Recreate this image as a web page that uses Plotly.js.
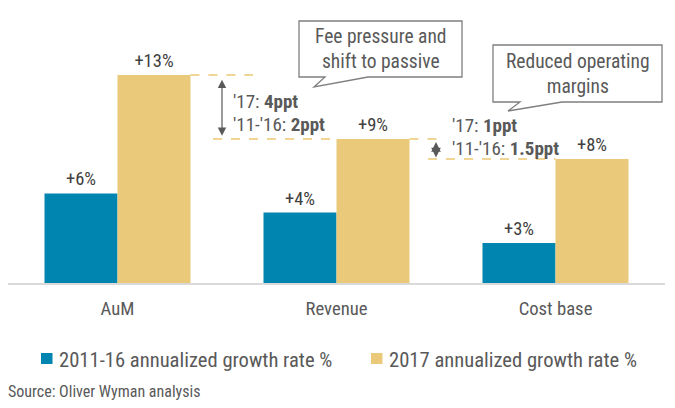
<!DOCTYPE html>
<html>
<head>
<meta charset="utf-8">
<script src="https://cdn.plot.ly/plotly-3.0.1.min.js"></script>
<style>html,body{margin:0;padding:0;background:#fff;}</style>
</head>
<body>
<div id="chart" style="width:675px;height:408px;"></div>
<script>
// ---- data ----
const categories = ['AuM', 'Revenue', 'Cost base'];
const growth2011_16 = [5.6, 4.4, 2.5];
const growth2017 = [13.0, 9.0, 7.75];
const labels2011_16 = ['+6%', '+4%', '+3%'];
const labels2017 = ['+13%', '+9%', '+8%'];
const seriesNames = ['2011-16 annualized growth rate %', '2017 annualized growth rate %'];
const calloutTexts = ['Fee pressure and<br>shift to passive', 'Reduced operating<br>margins'];
const gapTexts = [["'17: <b>4ppt</b>", "'11-'16: <b>2ppt</b>"], ["'17: <b>1ppt</b>", "'11-'16: <b>1.5ppt</b>"]];
const sourceText = 'Source: Oliver Wyman analysis';

// ---- style ----
const FONT = "'Roboto Condensed', 'Liberation Sans Narrow', 'Arial Narrow', Roboto, sans-serif";
const BLUE = '#0085B0';
const GOLD = '#EAC97A';
const DASH = '#EBC873';
const TXT = '#404040';
const TXT2 = '#595959';

const W = 675, H = 408;
const M = {l: 8, r: 10, t: 10, b: 125};
const PW = W - M.l - M.r, PH = H - M.t - M.b;
const PXU = 16; // pixels per percentage point
const YMAX = PH / PXU;
const xr = [-0.5, 2.5];
// helpers to place decorations (pixel -> axis / paper)
const px2x = px => xr[0] + (px - M.l) / PW * (xr[1] - xr[0]);
const py2y = py => (H - M.b - py) / PXU;
const px2p = px => (px - M.l) / PW;
const py2p = py => (H - M.b - py) / PH;

const traces = [
  {type: 'bar', x: categories, y: growth2011_16, name: seriesNames[0],
   marker: {color: BLUE}, text: labels2011_16, textposition: 'outside',
   textfont: {family: FONT, size: 18.5, color: TXT}, cliponaxis: false, hoverinfo: 'none'},
  {type: 'bar', x: categories, y: growth2017, name: seriesNames[1],
   marker: {color: GOLD}, text: labels2017, textposition: 'outside',
   textfont: {family: FONT, size: 18.5, color: TXT}, cliponaxis: false, hoverinfo: 'none'}
];

const shapes = [];
const annotations = [];

// dashed reference lines at bar levels
function dash(x0, x1, y) {
  shapes.push({type: 'line', xref: 'x', yref: 'y', x0: x0, x1: x1, y0: y, y1: y,
    line: {color: DASH, width: 1.5, dash: 'dash'}});
}
dash(0.333, px2x(253), growth2017[0]);
dash(px2x(213), 1.0, growth2017[1]);
dash(1.333, px2x(441), growth2017[1]);
dash(px2x(428), 2.0, growth2017[2]);

// double arrows
function dblArrow(x, y0, y1, s) {
  annotations.push({xref: 'x', yref: 'y', axref: 'x', ayref: 'y', x: x, y: y1, ax: x, ay: y0,
    text: '', showarrow: true, arrowhead: 2, startarrowhead: 2, arrowside: 'end+start',
    arrowsize: s, startarrowsize: s, arrowwidth: 1.2, arrowcolor: '#595959'});
}
dblArrow(px2x(222), growth2017[0] - 0.2, growth2017[1] + 0.2, 1.4);
dblArrow(px2x(436), growth2017[1] - 0.1, growth2017[2] + 0.1, 1.6);

// gap texts
function gapText(px, py, t) {
  annotations.push({xref: 'x', yref: 'y', x: px2x(px), y: py2y(py), text: t, showarrow: false,
    xanchor: 'left', yanchor: 'middle', font: {family: FONT, size: 19, color: TXT2}});
}
gapText(231, 101, gapTexts[0][0]);
gapText(231, 124, gapTexts[0][1]);
gapText(450, 125, gapTexts[1][0]);
gapText(450, 148, gapTexts[1][1]);

// callout boxes
function callout(l, r, t, b, tb0, tb1, tx, ty, txt) {
  const P = (px, py) => px2x(px) + ',' + py2y(py);
  const path = 'M' + P(l, t) + ' L' + P(r, t) + ' L' + P(r, b) + ' L' + P(tb1, b) +
    ' L' + P(tx, ty) + ' L' + P(tb0, b) + ' L' + P(l, b) + ' Z';
  shapes.push({type: 'path', xref: 'x', yref: 'y', path: path, fillcolor: '#ffffff',
    line: {color: '#7f7f7f', width: 1.3}});
  annotations.push({xref: 'x', yref: 'y', x: px2x((l + r) / 2), y: py2y((t + b) / 2), text: txt,
    showarrow: false, xanchor: 'center', yanchor: 'middle',
    font: {family: FONT, size: 19.5, color: TXT2}});
}
callout(299, 462, 21, 77, 325, 368, 314, 87, calloutTexts[0]);
callout(493, 662, 45, 102, 520, 562, 508, 111, calloutTexts[1]);

// legend (manual, paper coordinates)
const legendItems = [[41, 57, BLUE, seriesNames[0]], [371, 387, GOLD, seriesNames[1]]];
legendItems.forEach(it => {
  shapes.push({type: 'rect', xref: 'paper', yref: 'paper', x0: px2p(it[0]), x1: px2p(it[0] + 11.5),
    y0: py2p(364), y1: py2p(353), fillcolor: it[2], line: {width: 0}});
  annotations.push({xref: 'paper', yref: 'paper', x: px2p(it[1]), y: py2p(360), text: it[3],
    showarrow: false, xanchor: 'left', yanchor: 'middle',
    font: {family: FONT, size: 20.6, color: TXT2}});
});

// source
annotations.push({xref: 'paper', yref: 'paper', x: px2p(6), y: py2p(391), text: sourceText,
  showarrow: false, xanchor: 'left', yanchor: 'middle', font: {family: FONT, size: 16, color: TXT2}});

const layout = {
  width: W, height: H, margin: M, paper_bgcolor: '#fff', plot_bgcolor: '#fff',
  barmode: 'group', bargap: 1 / 3, bargroupgap: 0, showlegend: false,
  font: {family: FONT, color: TXT},
  xaxis: {type: 'category', range: xr, showgrid: false, zeroline: false, showline: true,
    linecolor: '#D9D9D9', linewidth: 2, ticks: '', ticklabelstandoff: 8,
    tickfont: {family: FONT, size: 18.7, color: TXT2}, fixedrange: true},
  yaxis: {range: [0, YMAX], showgrid: false, zeroline: false, showline: false,
    showticklabels: false, ticks: '', fixedrange: true},
  shapes: shapes, annotations: annotations
};

Plotly.newPlot('chart', traces, layout, {displayModeBar: false, staticPlot: true});
</script>
</body>
</html>
